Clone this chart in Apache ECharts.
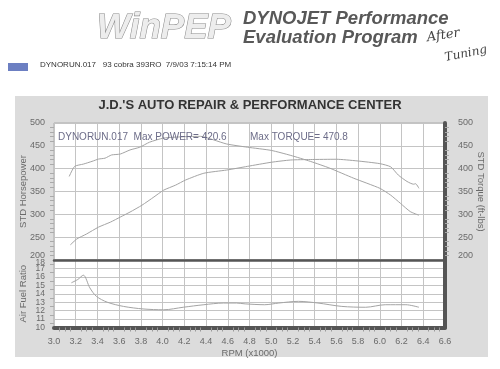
<!DOCTYPE html>
<html>
<head>
<meta charset="utf-8">
<script src="https://cdn.jsdelivr.net/npm/echarts@6/dist/echarts.min.js"></script>
<style>html,body{margin:0;padding:0;background:#fff}#c{width:500px;height:369px}</style>
</head>
<body>
<div id="c"></div>
<script>
// ---- data ----
const rpmPower = [3.15, 3.21, 3.30, 3.41, 3.52, 3.61, 3.70, 3.81, 3.92, 4.01, 4.12, 4.21, 4.38, 4.59, 4.78, 5.00, 5.18, 5.36, 5.60, 5.79, 6.00, 6.10, 6.17, 6.25, 6.31, 6.33, 6.36];
const powerHp  = [233, 246, 257, 272, 283, 294, 305, 320, 338, 353, 364, 375, 390, 397, 405, 414, 419, 420, 420.6, 417, 411, 404, 386, 372, 366, 367, 357];
const rpmTorque = [3.14, 3.19, 3.27, 3.35, 3.41, 3.47, 3.53, 3.61, 3.70, 3.79, 3.88, 4.01, 4.20, 4.35, 4.47, 4.59, 4.78, 5.00, 5.18, 5.36, 5.54, 5.76, 6.00, 6.10, 6.19, 6.28, 6.36];
const torqueFtLb = [383, 405, 410, 416, 421, 423, 430, 432, 441, 447, 458, 467, 470, 470.8, 463, 454, 447, 440, 429, 416, 401, 379, 357, 342, 324, 306, 298];
const rpmAfr = [3.16, 3.22, 3.27, 3.33, 3.39, 3.49, 3.64, 3.82, 4.01, 4.19, 4.38, 4.56, 4.68, 4.76, 4.94, 5.07, 5.25, 5.43, 5.65, 5.87, 6.05, 6.24, 6.36];
const afrValues = [15.3, 15.7, 16.2, 14.7, 13.7, 13.0, 12.5, 12.2, 12.1, 12.4, 12.7, 12.9, 12.9, 12.8, 12.7, 12.9, 13.1, 12.9, 12.5, 12.4, 12.7, 12.7, 12.4];
const rpmAxis = {min: 3.0, max: 6.6, step: 0.2};
const stdAxis = {min: 200, max: 500, step: 50};
const afrAxis = {min: 10, max: 18, step: 1};
const titleText = "J.D.'S AUTO REPAIR & PERFORMANCE CENTER";
const runLabel = "DYNORUN.017   93 cobra 393RO  7/9/03 7:15:14 PM";
const maxPowerText = "DYNORUN.017  Max POWER= 420.6";
const maxTorqueText = "Max TORQUE= 470.8";

const zip = (a, b) => a.map((v, i) => [v, b[i]]);
const FONT = '"Liberation Sans", Arial, sans-serif';
const lblColor = '#6a6a6a';
const gridColor = '#c4c4c4';
const curveColor = '#a4a4a4';
const heavy = '#555';
const lbl = {fontFamily: FONT, fontSize: 9.5, color: lblColor};
const tick = {fontFamily: FONT, fontSize: 9, color: lblColor};
const afrTick = {fontFamily: FONT, fontSize: 8.5, lineHeight: 8, color: lblColor};
// nudges for the crowded labels where the two panels meet
const stdFmt = v => v === stdAxis.min ? '{lo|' + v + '}' : String(v);
const afrEvenFmt = v => Math.round(v) % 2 !== 0 ? '' : (v === afrAxis.max ? '{hi|' + v + '}' : String(v));
const afrOddFmt = v => Math.round(v) % 2 === 1 ? String(v) : '';

const chart = echarts.init(document.getElementById('c'), null, {renderer: 'canvas'});
chart.setOption({
  backgroundColor: '#fff',
  animation: false,
  title: {
    text: titleText, left: 'center', top: 94,
    textStyle: {fontFamily: FONT, fontWeight: 'bold', fontSize: 13, color: '#333'}
  },
  graphic: [
    {type: 'rect', z: -10, shape: {x: 15, y: 96, width: 473, height: 261}, style: {fill: '#dcdcdc'}},
    {type: 'text', x: 97, y: 28.5, style: {text: 'WinPEP', font: 'italic bold 35px ' + FONT, fill: '#ededed', stroke: '#8a8a8a', lineWidth: 1.1, verticalAlign: 'middle', shadowBlur: 8, shadowColor: 'rgba(215,150,175,0.75)'}},
    {type: 'text', x: 243, y: 18.5, style: {text: 'DYNOJET Performance', font: 'italic bold 18.5px ' + FONT, fill: '#585858', verticalAlign: 'middle'}},
    {type: 'text', x: 243, y: 37.5, style: {text: 'Evaluation Program', font: 'italic bold 18.5px ' + FONT, fill: '#585858', verticalAlign: 'middle'}},
    {type: 'text', x: 427, y: 38, rotation: 0.15, style: {text: 'After', font: 'italic 13px "DejaVu Serif", serif', fill: '#444', verticalAlign: 'middle'}},
    {type: 'text', x: 445, y: 58, rotation: 0.2, style: {text: 'Tuning', font: 'italic 12px "DejaVu Serif", serif', fill: '#444', verticalAlign: 'middle'}},
    {type: 'rect', shape: {x: 8, y: 63, width: 20, height: 8}, style: {fill: '#6c7fc2'}},
    {type: 'text', x: 40, y: 64.5, style: {text: runLabel, font: '8px ' + FONT, fill: '#333', verticalAlign: 'middle'}},
    {type: 'text', x: 58, y: 137, z: 20, style: {text: maxPowerText, font: '10px ' + FONT, fill: '#6c6c88', verticalAlign: 'middle'}},
    {type: 'text', x: 250, y: 137, z: 20, style: {text: maxTorqueText, font: '10px ' + FONT, fill: '#6c6c88', verticalAlign: 'middle'}}
  ],
  grid: [
    {left: 54, width: 391, top: 123, height: 137, show: true, backgroundColor: '#fff', borderColor: '#aaa', borderWidth: 1},
    {left: 54, width: 391, top: 260, height: 67.5, show: true, backgroundColor: '#fff', borderColor: '#aaa', borderWidth: 1}
  ],
  xAxis: [
    {gridIndex: 0, type: 'value', min: rpmAxis.min, max: rpmAxis.max, interval: rpmAxis.step,
     axisLabel: {show: false}, axisTick: {show: false},
     axisLine: {show: true, onZero: false, lineStyle: {color: heavy, width: 2.5}},
     splitLine: {show: true, lineStyle: {color: gridColor, width: 1}}},
    {gridIndex: 1, type: 'value', min: rpmAxis.min, max: rpmAxis.max, interval: rpmAxis.step,
     name: 'RPM (x1000)', nameLocation: 'middle', nameGap: 21,
     nameTextStyle: lbl,
     axisLabel: Object.assign({margin: 10, showMinLabel: true, showMaxLabel: true, formatter: v => v.toFixed(1)}, tick),
     axisTick: {show: false},
     minorTick: {show: true, splitNumber: 4, length: 4, lineStyle: {color: '#999'}},
     axisLine: {show: true, onZero: false, lineStyle: {color: heavy, width: 4}},
     splitLine: {show: true, lineStyle: {color: gridColor, width: 1}}}
  ],
  yAxis: [
    {gridIndex: 0, type: 'value', position: 'left', min: stdAxis.min, max: stdAxis.max, interval: stdAxis.step,
     name: 'STD Horsepower', nameLocation: 'middle', nameGap: 26, nameMoveOverlap: false,
     nameTextStyle: lbl,
     axisLabel: Object.assign({margin: 9, showMinLabel: true, showMaxLabel: true, formatter: stdFmt,
       rich: {lo: Object.assign({padding: [0, 0, 8, 0]}, tick)}}, tick),
     axisTick: {show: false},
     minorTick: {show: true, splitNumber: 5, length: 4, lineStyle: {color: '#aaa'}},
     axisLine: {show: false},
     splitLine: {show: true, lineStyle: {color: gridColor, width: 1}}},
    {gridIndex: 0, type: 'value', position: 'right', min: stdAxis.min, max: stdAxis.max, interval: stdAxis.step,
     name: 'STD Torque (ft-lbs)', nameLocation: 'middle', nameGap: 31, nameRotate: -90, nameMoveOverlap: false,
     nameTextStyle: lbl,
     axisLabel: Object.assign({margin: 13, showMinLabel: true, showMaxLabel: true, formatter: stdFmt,
       rich: {lo: Object.assign({padding: [0, 0, 8, 0]}, tick)}}, tick),
     axisTick: {show: false},
     minorTick: {show: true, splitNumber: 5, length: 4, lineStyle: {color: '#aaa'}},
     axisLine: {show: true, lineStyle: {color: heavy, width: 4}},
     splitLine: {show: false}},
    {gridIndex: 1, type: 'value', position: 'left', min: afrAxis.min, max: afrAxis.max, interval: afrAxis.step,
     name: 'Air Fuel Ratio', nameLocation: 'middle', nameGap: 26, nameMoveOverlap: false,
     nameTextStyle: lbl,
     axisLabel: Object.assign({margin: 9, showMinLabel: true, showMaxLabel: true, hideOverlap: false, formatter: afrEvenFmt,
       rich: {hi: Object.assign({padding: [6, 0, 0, 0]}, afrTick)}}, afrTick),
     axisTick: {show: false},
     minorTick: {show: true, splitNumber: 2, length: 4, lineStyle: {color: '#aaa'}},
     axisLine: {show: false},
     splitLine: {show: true, lineStyle: {color: gridColor, width: 1}}},
    {gridIndex: 1, type: 'value', position: 'right', min: afrAxis.min, max: afrAxis.max, interval: afrAxis.step,
     axisLabel: {show: false}, axisTick: {show: false},
     axisLine: {show: true, lineStyle: {color: heavy, width: 4}},
     splitLine: {show: false}},
    {gridIndex: 1, type: 'value', position: 'left', offset: 0, min: afrAxis.min, max: afrAxis.max, interval: afrAxis.step,
     axisLabel: Object.assign({margin: 9, showMinLabel: true, showMaxLabel: true, hideOverlap: false, formatter: afrOddFmt}, afrTick),
     axisTick: {show: false}, axisLine: {show: false}, splitLine: {show: false}}
  ],
  series: [
    {name: 'STD Horsepower', type: 'line', xAxisIndex: 0, yAxisIndex: 0, data: zip(rpmPower, powerHp),
     showSymbol: false, smooth: 0.2, lineStyle: {color: curveColor, width: 1}},
    {name: 'STD Torque', type: 'line', xAxisIndex: 0, yAxisIndex: 1, data: zip(rpmTorque, torqueFtLb),
     showSymbol: false, smooth: 0.2, lineStyle: {color: curveColor, width: 1}},
    {name: 'Air Fuel Ratio', type: 'line', xAxisIndex: 1, yAxisIndex: 2, data: zip(rpmAfr, afrValues),
     showSymbol: false, smooth: 0.3, lineStyle: {color: curveColor, width: 1}}
  ]
});
</script>
</body>
</html>
